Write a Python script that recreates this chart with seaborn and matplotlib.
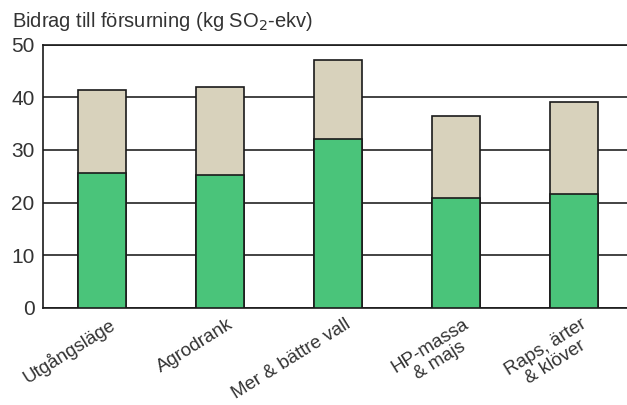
import numpy as np
import pandas as pd
import seaborn as sns
import matplotlib.pyplot as plt
import matplotlib.transforms as mtransforms

# Bidrag till försurning per scenario (kg SO2-ekv)
scenarios = ["Utgångsläge", "Agrodrank", "Mer & bättre vall", "HP-massa\n& majs", "Raps, ärter\n& klöver"]
green_part = [25.7, 25.2, 32.0, 20.9, 21.7]
total = [41.4, 42.0, 47.1, 36.4, 39.1]

df = pd.DataFrame({"scenario": scenarios, "green": green_part, "total": total})

sns.set_style("white")
plt.rcParams['font.family'] = ['Liberation Sans', 'DejaVu Sans']

fig = plt.figure(figsize=(6.27, 4.05), dpi=100)
ax = fig.add_axes([0.0686, 0.2402, 0.9314, 0.6494])

sns.barplot(data=df, x="scenario", y="total", color="#d8d2bc", edgecolor="#1a1a1a",
            linewidth=1.2, width=0.4, saturation=1, ax=ax, zorder=3)
sns.barplot(data=df, x="scenario", y="green", color="#4ac47a", edgecolor="#1a1a1a",
            linewidth=1.2, width=0.4, saturation=1, ax=ax, zorder=4)

ax.set_ylim(0, 50)
ax.set_xlim(-0.5, 4.45)
ax.set_yticks([0, 10, 20, 30, 40, 50])
ax.yaxis.grid(True, color="#222222", linewidth=1.2, zorder=0)
ax.set_axisbelow(True)
ax.set_xlabel("")
ax.set_ylabel("")

for side in ["left", "top", "bottom"]:
    ax.spines[side].set_color("#1a1a1a")
    ax.spines[side].set_linewidth(1.2)
ax.spines["right"].set_visible(False)

ax.tick_params(axis="y", length=0, pad=6, labelsize=15, labelcolor="#333333")
ax.tick_params(axis="x", length=0, pad=4, labelsize=13.5, labelcolor="#333333")
shift = mtransforms.ScaledTranslation(0.07, -0.02, fig.dpi_scale_trans)
for lbl in ax.get_xticklabels():
    lbl.set_rotation(32)
    lbl.set_ha("right")
    lbl.set_rotation_mode("anchor")
    lbl.set_multialignment("center")
    lbl.set_linespacing(1.05)
    lbl.set_transform(lbl.get_transform() + shift)

fig.text(0.019, 0.948, "Bidrag till försurning (kg SO$_2$-ekv)", fontsize=14.5,
         color="#333333", va="center", ha="left")

fig.savefig("out.png", dpi=100)
